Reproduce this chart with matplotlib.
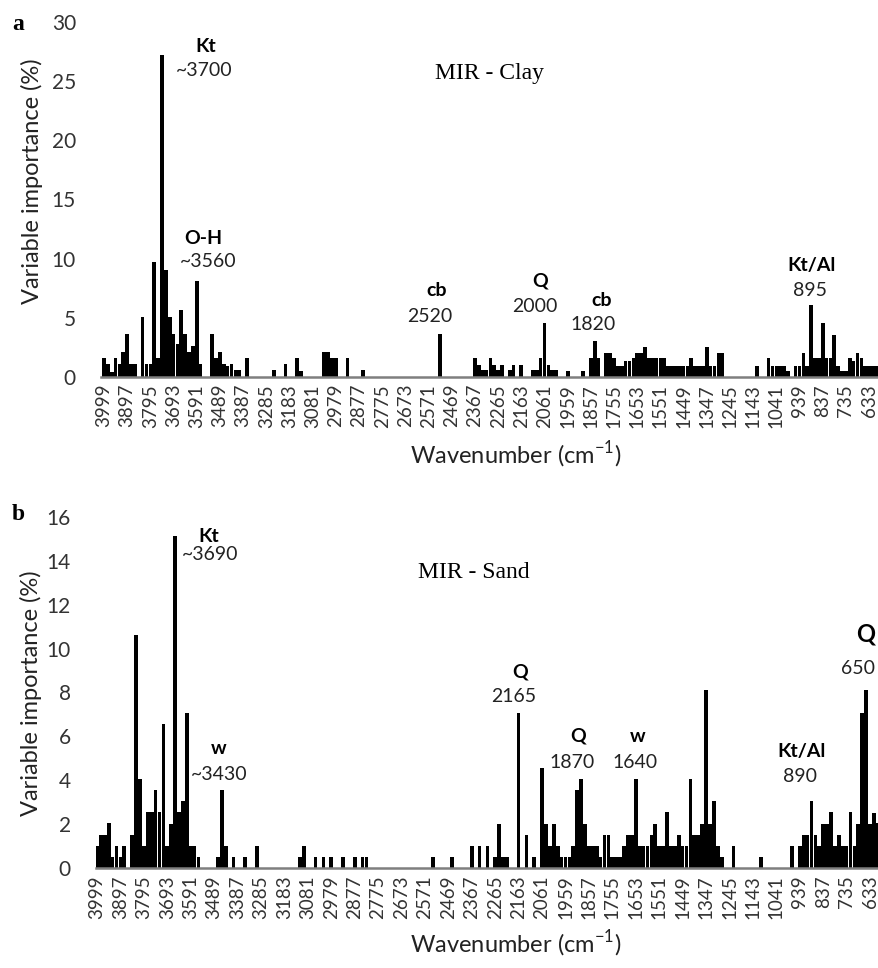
import numpy as np
import matplotlib.pyplot as plt

plt.rcParams['font.family'] = ['Lato', 'DejaVu Sans']
plt.rcParams['mathtext.fontset'] = 'custom'
plt.rcParams['mathtext.rm'] = 'Lato'

W, H = 879, 968

# category axis: wavenumbers (cm-1), one bar every 17 cm-1
wavenumbers = np.arange(3999, 598, -17)
tick_every = 6

# variable importance (%)
clay = [
    1.6, 1.07, 0.4, 1.6, 1.07, 2.1, 3.6, 1.07, 1.07, 0,
    5.1, 1.07, 1.07, 9.75, 1.6, 27.2, 9.0, 5.1, 3.6, 2.8,
    5.65, 3.6, 2.1, 2.6, 8.1, 1.07, 0, 0, 3.6, 1.6,
    2.1, 1.07, 0.9, 1.07, 0.56, 0.56, 0, 1.6, 0, 0,
    0, 0, 0, 0, 0.6, 0, 0, 1.07, 0, 0,
    1.6, 0.5, 0, 0, 0, 0, 0, 2.1, 2.1, 1.6,
    1.6, 0, 0, 1.6, 0, 0, 0, 0.6, 0, 0,
    0, 0, 0, 0, 0, 0, 0, 0, 0, 0,
    0, 0, 0, 0, 0, 0, 0, 3.6, 0, 0,
    0, 0, 0, 0, 0, 0, 1.6, 1.05, 0.6, 0.6,
    1.6, 1.05, 0.6, 1.05, 0, 0.6, 1.05, 0, 1.05, 0,
    0, 0.6, 0.6, 1.6, 4.6, 1.05, 0.6, 0.6, 0, 0,
    0.5, 0, 0, 0, 0.5, 0, 1.6, 3.0, 1.6, 0,
    2.05, 2.05, 1.6, 0.9, 0.9, 1.35, 1.35, 1.6, 2.05, 2.05,
    2.5, 1.6, 1.6, 1.6, 1.6, 1.6, 0.9, 0.9, 0.9, 0.9,
    0.9, 0.9, 1.6, 0.9, 0.9, 0.9, 2.5, 0.9, 0.9, 2.05,
    2.05, 0, 0, 0, 0, 0, 0, 0, 0, 0.9,
    0, 0, 1.6, 0.9, 0.9, 0.9, 0.9, 0.5, 0, 0.9,
    0.9, 2.05, 0.9, 6.1, 1.6, 1.6, 4.6, 1.6, 1.6, 3.55,
    0.9, 0.5, 0.5, 1.6, 1.35, 2.05, 1.6, 0.9, 0.9, 0.9,
    0.9,
]

sand = [
    1.0, 1.5, 1.5, 2.05, 0.5, 1.0, 0.5, 1.0, 0, 1.5,
    10.6, 4.05, 1.0, 2.55, 2.55, 3.55, 2.55, 6.55, 1.0, 2.0,
    15.1, 2.55, 3.05, 7.05, 1.0, 1.0, 0.5, 0, 0, 0,
    0, 0.5, 3.55, 1.0, 0, 0.5, 0, 0, 0.5, 0,
    0, 1.0, 0, 0, 0, 0, 0, 0, 0, 0,
    0, 0, 0.5, 1.0, 0, 0, 0.5, 0, 0.5, 0,
    0.5, 0, 0, 0.5, 0, 0, 0.5, 0, 0.5, 0.5,
    0, 0, 0, 0, 0, 0, 0, 0, 0, 0,
    0, 0, 0, 0, 0, 0, 0.5, 0, 0, 0,
    0, 0.5, 0, 0, 0, 0, 1.0, 0, 1.0, 0,
    1.0, 0, 0.5, 2.0, 0.5, 0.5, 0, 0, 7.05, 0,
    1.5, 0, 0.5, 0, 4.55, 2.0, 1.0, 2.0, 1.0, 0.5,
    0.5, 0.5, 1.0, 3.55, 4.05, 2.0, 1.0, 1.0, 1.0, 0.5,
    1.5, 1.5, 0.5, 0.5, 0.5, 1.0, 1.5, 1.5, 4.05, 1.0,
    1.0, 1.0, 1.5, 2.0, 1.0, 1.0, 2.55, 1.0, 1.0, 1.5,
    1.0, 1.0, 4.05, 1.5, 1.5, 2.0, 8.1, 2.0, 3.05, 1.0,
    0.5, 0, 0, 1.0, 0, 0, 0, 0, 0, 0,
    0.5, 0, 0, 0, 0, 0, 0, 0, 1.0, 0,
    1.0, 1.5, 1.5, 3.05, 1.5, 1.0, 2.0, 2.0, 2.55, 1.0,
    1.5, 1.0, 1.0, 2.55, 1.0, 2.0, 7.05, 8.1, 2.0, 2.5,
    2.05,
]

# band labels: (bold name, position text, name xy, number xy) in pixels
clay_bands = [
    ('Kt', '~3700', (206, 47), (204, 71)),
    ('O-H', '~3560', (203, 239), (208, 261)),
    ('cb', '2520', (437, 290), (430, 316)),
    ('Q', '2000', (540, 281), (535, 306)),
    ('cb', '1820', (602, 300), (593, 324)),
    ('Kt/Al', '895', (812, 265), (810, 290)),
]
sand_bands = [
    ('Kt', '~3690', (209, 536), (210, 554)),
    ('w', '~3430', (219, 748), (219, 774)),
    ('Q', '2165', (520, 672), (514, 697)),
    ('Q', '1870', (578, 736), (572, 762)),
    ('w', '1640', (638, 737), (635, 762)),
    ('Kt/Al', '890', (802, 751), (800, 777)),
    ('Q', '650', (866, 634), (858, 668)),
]


def fx(px):
    return px / W


def fy(py):
    return 1 - py / H


fig = plt.figure(figsize=(W / 100, H / 100), dpi=100)

panels = [
    # values, ymax, ystep, axes left px, baseline px, top px, xlim, title, title xy, letter xy, letter, xlabel y
    (clay, 30, 5, 101, 377, 21.7, (-0.78, 200.57), 'MIR - Clay', (490, 73), (18, 24), 'a', 455),
    (sand, 16, 2, 95.7, 868.3, 516.7, (-0.33, 200.3), 'MIR - Sand', (474, 572), (18, 515), 'b', 944),
]

x = np.arange(len(wavenumbers))
for vals, ymax, ystep, left, base, top, xlim, title, txy, lxy, letter, xly in panels:
    ax = fig.add_axes([fx(left), fy(base), (W - left) / W, (base - top) / H])
    ax.bar(x, vals, width=0.95, color='black', linewidth=0)
    ax.set_xlim(*xlim)
    ax.set_ylim(0, ymax)
    ax.set_yticks(np.arange(0, ymax + 1, ystep))
    ax.set_xticks(x[::tick_every])
    ax.set_xticklabels([str(w) for w in wavenumbers[::tick_every]], rotation=90)
    ax.tick_params(axis='x', length=0, labelsize=13.5, pad=5, colors='#333333')
    ax.tick_params(axis='y', length=0, labelsize=15, pad=18, colors='#333333')
    for s in ['top', 'right', 'left']:
        ax.spines[s].set_visible(False)
    ax.spines['bottom'].set_color('#7f7f7f')
    ax.spines['bottom'].set_linewidth(1.8)
    fig.text(fx(516), fy(xly), 'Wavenumber (cm$^{-1}$)', fontsize=17, color='#222222',
             ha='center', va='center')
    fig.text(fx(txy[0]), fy(txy[1]), title, family='Liberation Serif', fontsize=17,
             ha='center', va='center')
    fig.text(fx(lxy[0]), fy(lxy[1]), letter, family='Liberation Serif', fontsize=17,
             fontweight='bold', ha='center', va='center')

fig.text(fx(32), fy(181), 'Variable importance (%)', rotation=90, fontsize=17,
         ha='center', va='center', color='#222222')
fig.text(fx(31), fy(693), 'Variable importance (%)', rotation=90, fontsize=17,
         ha='center', va='center', color='#222222')

for name, num, nxy, mxy in clay_bands + sand_bands:
    size = 17 if (name == 'Q' and num == '650') else 14
    fig.text(fx(nxy[0]), fy(nxy[1]), name, fontsize=size, fontweight='bold',
             ha='center', va='center')
    fig.text(fx(mxy[0]), fy(mxy[1]), num, fontsize=14, ha='center', va='center',
             color='#222222')

fig.savefig('out.png', dpi=100)
